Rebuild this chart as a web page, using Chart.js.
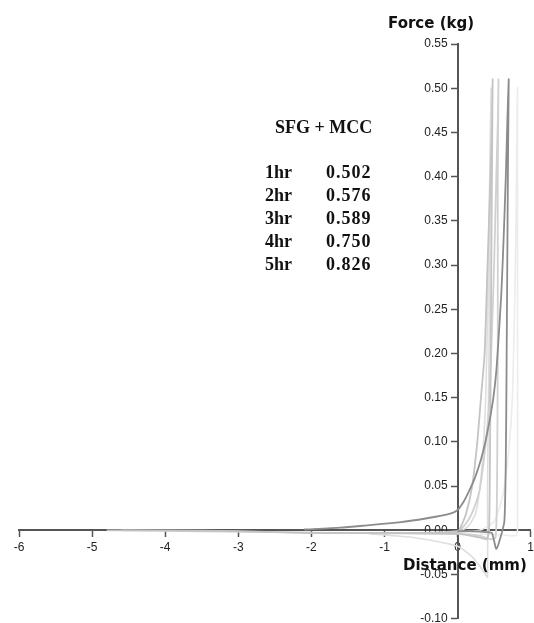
<!DOCTYPE html>
<html>
<head>
<meta charset="utf-8">
<script src="https://cdn.jsdelivr.net/npm/chart.js@4.4.1/dist/chart.umd.min.js"></script>
<style>
    body { margin: 0; background: #fff; }
    .wrap { position: relative; width: 534px; height: 623px; overflow: hidden; }
    canvas { position: absolute; left: 0; top: 0; }
    .axis-title {
        position: absolute;
        font-family: "DejaVu Sans", sans-serif;
        font-weight: bold;
        font-size: 15px;
        line-height: 18px;
        color: #111;
        white-space: nowrap;
    }
    .note {
        position: absolute;
        font-family: "Liberation Serif", "Times New Roman", serif;
        font-weight: bold;
        font-size: 18px;
        line-height: 23px;
        color: #111;
        white-space: nowrap;
    }
    .note .head { position: absolute; left: 275px; top: 116px; }
    .note .row { position: absolute; left: 265px; }
    .note .row span { position: absolute; left: 61px; letter-spacing: 1px; }
</style>
</head>
<body>
<div class="wrap">
    <!-- canvas is a bit larger than the frame so the plot box reaches the frame edges -->
    <canvas id="chart" width="538" height="629"></canvas>
    <div class="axis-title" style="left:388px; top:14px;">Force (kg)</div>
    <div class="axis-title" style="left:403px; top:556px;">Distance (mm)</div>
    <div class="note" id="note"></div>
</div>
<script>
// legend block values
const noteTitle = 'SFG + MCC';
const noteLabels = ['1hr', '2hr', '3hr', '4hr', '5hr'];
const noteValues = ['0.502', '0.576', '0.589', '0.750', '0.826'];

// axis ranges
const xMin = -6, xMax = 1, xStep = 1;
const yMin = -0.10, yMax = 0.55, yStep = 0.05;

// force / distance traces
const darkX = [-2.1, -1.6, -1.2, -0.8, -0.4, -0.1, 0, 0.08, 0.16, 0.24, 0.32, 0.38, 0.44, 0.49, 0.53, 0.56, 0.60, 0.63, 0.66, 0.68, 0.70,
    0.69, 0.68, 0.67, 0.66, 0.64, 0.58, 0.53, 0.50, 0.47, 0.40, 0.2, 0];
const darkY = [0.001, 0.003, 0.006, 0.009, 0.014, 0.019, 0.023, 0.032, 0.045, 0.06, 0.08, 0.10, 0.125, 0.15, 0.18, 0.216, 0.27, 0.33, 0.40, 0.46, 0.51,
    0.42, 0.30, 0.18, 0.08, 0.01, -0.01, -0.021, -0.012, -0.003, -0.002, -0.001, -0.001];

const lightAX = [-4.8, -4.0, -3.0, -2.0, -1.0, 0, 0.05, 0.12, 0.2, 0.27, 0.32, 0.37, 0.41, 0.45, 0.47, 0.48,
    0.47, 0.46, 0.45, 0.44, 0.43, 0.40, 0.3, 0, -1.0];
const lightAY = [0, 0, -0.001, -0.003, -0.003, -0.002, 0.005, 0.02, 0.05, 0.10, 0.15, 0.20, 0.30, 0.40, 0.46, 0.51,
    0.40, 0.28, 0.15, 0.05, 0.0, -0.01, -0.008, -0.004, -0.003];

const lightBX = [-4.6, -3.5, -2.5, -1.5, -0.5, 0, 0.1, 0.2, 0.3, 0.36, 0.42, 0.46, 0.50, 0.53, 0.55, 0.56,
    0.55, 0.55, 0.54, 0.52, 0.45, 0.3, 0, -1.5];
const lightBY = [0, -0.001, -0.002, -0.003, -0.003, -0.001, 0.006, 0.02, 0.045, 0.08, 0.13, 0.20, 0.30, 0.40, 0.46, 0.51,
    0.40, 0.20, 0.05, -0.008, -0.01, -0.006, -0.004, -0.003];

const paleX = [-1.2, -0.6, 0, 0.15, 0.25, 0.32, 0.37, 0.40, 0.42, 0.44, 0.45, 0.46, 0.45, 0.43, 0.41, 0.41,
    0.38, 0.30, 0.2, 0, -0.6, -1.2];
const paleY = [-0.004, -0.003, -0.002, 0.005, 0.02, 0.06, 0.12, 0.20, 0.30, 0.40, 0.46, 0.50, 0.40, 0.20, 0.05, -0.053,
    -0.05, -0.04, -0.03, -0.018, -0.008, -0.004];

const faintX = [-1.0, 0, 0.3, 0.5, 0.62, 0.70, 0.75, 0.78, 0.80, 0.81, 0.82, 0.82, 0.82, 0.80, 0.6, 0.3];
const faintY = [-0.003, -0.002, 0.0, 0.01, 0.04, 0.09, 0.15, 0.25, 0.35, 0.44, 0.50, 0.25, 0.0, -0.006, -0.005, -0.004];

const series = [
    { xs: darkX, ys: darkY, color: '#8c8c8c', width: 1.8 },
    { xs: lightAX, ys: lightAY, color: '#c4c4c4', width: 1.8 },
    { xs: lightBX, ys: lightBY, color: '#d0d0d0', width: 1.8 },
    { xs: paleX, ys: paleY, color: '#dedede', width: 1.6 },
    { xs: faintX, ys: faintY, color: '#ececec', width: 1.6 },
];

// legend text block
const note = document.getElementById('note');
const head = document.createElement('div');
head.className = 'head';
head.textContent = noteTitle;
note.appendChild(head);
noteLabels.forEach((lbl, i) => {
    const row = document.createElement('div');
    row.className = 'row';
    row.style.top = (161 + i * 23) + 'px';
    row.textContent = lbl;
    const val = document.createElement('span');
    val.textContent = noteValues[i];
    row.appendChild(val);
    note.appendChild(row);
});

const axisColor = '#555555';
const tickFont = { family: '"Liberation Sans", Arial, sans-serif', size: 12 };

new Chart(document.getElementById('chart'), {
    type: 'scatter',
    data: {
        datasets: series.map(s => ({
            data: s.xs.map((x, i) => ({ x, y: s.ys[i] })),
            showLine: true,
            borderColor: s.color,
            borderWidth: s.width,
            pointRadius: 0,
            tension: 0.2,
            fill: false,
        })),
    },
    options: {
        responsive: false,
        animation: false,
        devicePixelRatio: 1,
        layout: { padding: { left: 19, right: 2, top: 44, bottom: 0 } },
        plugins: {
            legend: { display: false },
            tooltip: { enabled: false },
        },
        scales: {
            x: {
                type: 'linear',
                position: { y: 0 },
                min: xMin,
                max: xMax,
                ticks: {
                    stepSize: xStep,
                    color: '#222',
                    font: tickFont,
                    padding: 4,
                    callback: v => String(v),
                },
                grid: { drawOnChartArea: false, drawTicks: true, tickLength: 6, tickColor: axisColor, tickWidth: 1.5 },
                border: { color: axisColor, width: 2 },
            },
            y: {
                type: 'linear',
                position: { x: 0 },
                min: yMin,
                max: yMax,
                ticks: {
                    stepSize: yStep,
                    color: '#222',
                    font: tickFont,
                    // trailing spaces push the right-aligned label clear of the tick mark
                    callback: v => Number(v).toFixed(2) + '   ',
                },
                grid: { drawOnChartArea: false, drawTicks: true, tickLength: 6, tickColor: axisColor, tickWidth: 1.5 },
                border: { color: axisColor, width: 2 },
            },
        },
    },
});
</script>
</body>
</html>
